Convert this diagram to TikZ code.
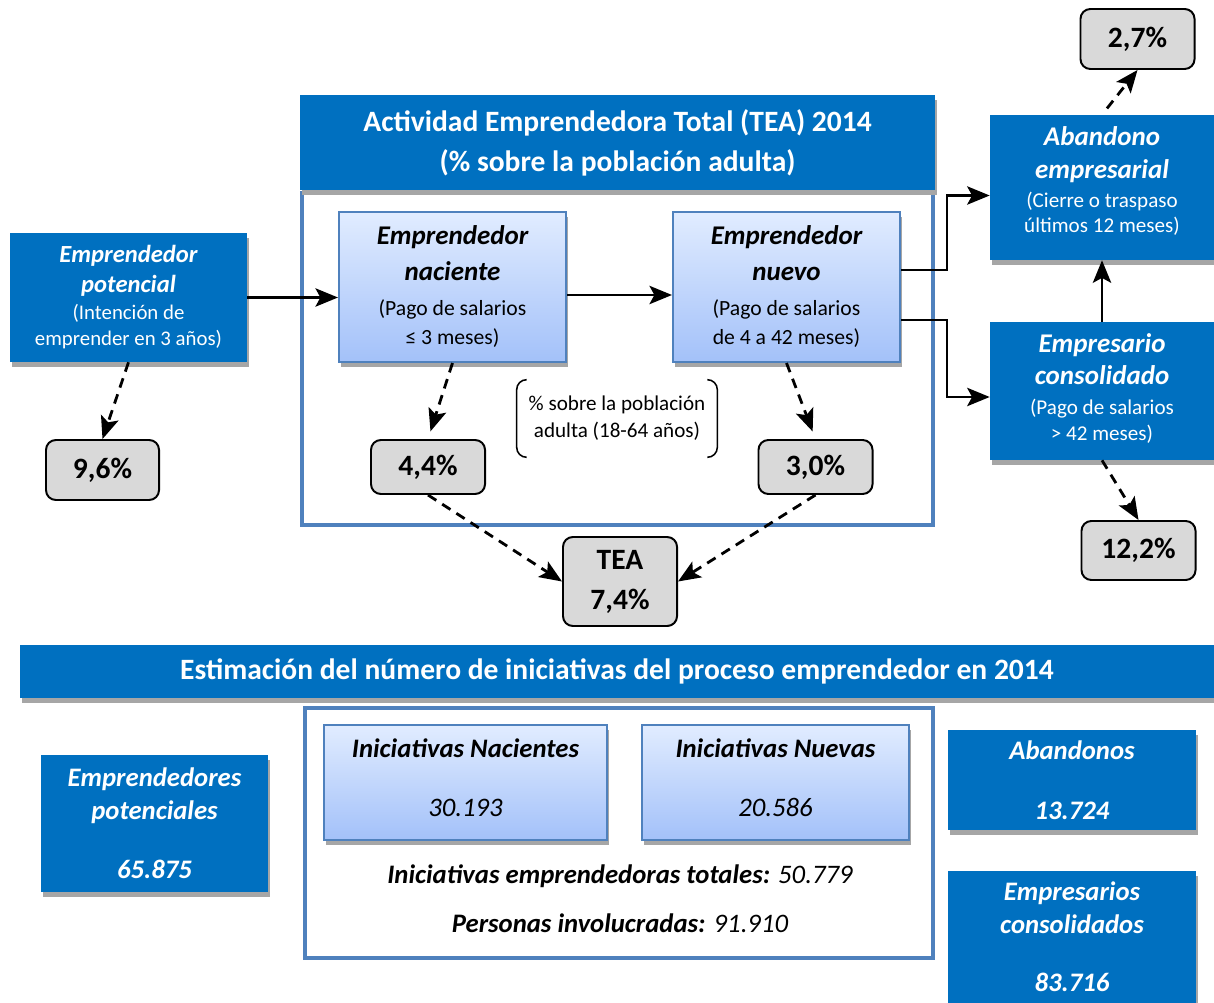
\documentclass[tikz,border=0pt]{standalone}
\usepackage{fontspec}
\setmainfont{Carlito}
\usetikzlibrary{arrows.meta,shadows}
\definecolor{azulgem}{HTML}{0070C0}
\definecolor{marco}{HTML}{4F81BD}
\definecolor{grisdato}{HTML}{D9D9D9}
\definecolor{sombra}{HTML}{A6A6A6}
\definecolor{celestearriba}{HTML}{E1ECFF}
\definecolor{celesteabajo}{HTML}{A3C1F9}
\newcommand{\cab}[1]{{\fontsize{19.2}{18}\selectfont\bfseries\itshape #1}}
\newcommand{\cabp}[1]{{\fontsize{17.5}{18}\selectfont\bfseries\itshape #1}}
\newcommand{\subir}[1]{\rule[-#1]{0pt}{#1}}
\tikzset{
  sombreada/.style={drop shadow={shadow xshift=0.05cm, shadow yshift=-0.13cm, fill=sombra, opacity=1}},
  cajaazul/.style={rectangle, fill=azulgem, text=white, align=center, inner sep=0pt, sombreada},
  cajaclara/.style={rectangle, draw=marco, line width=1.4pt, top color=celestearriba, bottom color=celesteabajo, align=center, inner sep=0pt, sombreada},
  dato/.style={rectangle, rounded corners=7pt, draw=black, line width=1.4pt, fill=grisdato, inner sep=0pt, align=center, font=\fontsize{21}{28.5}\selectfont\bfseries, minimum width=2.85cm},
  marcogrande/.style={draw=marco, line width=2.4pt},
  flecha/.style={-{Stealth[length=16pt,width=13pt,inset=3.5pt]}, line width=2pt},
  flechad/.style={flecha, dash pattern=on 7pt off 5pt},
}
\begin{document}
\begin{tikzpicture}[x=0.025cm,y=-0.025cm]
\useasboundingbox (0,0) rectangle (1214,1003);
% actividad emprendedora
\draw[marcogrande] (302,193) rectangle (933,525);
\node[cajaazul, minimum width=15.875cm, minimum height=2.375cm, font=\fontsize{21}{28.5}\selectfont\bfseries] (teatitulo) at (617.5,142.5) {Actividad Emprendedora Total (TEA) 2014\\ (\% sobre la población adulta)};
\node[cajaazul, minimum width=5.925cm, minimum height=3.225cm, font=\fontsize{14.8}{18.5}\selectfont] (potencial) at (128.5,297.5) {\cabp{Emprendedor}\\[2.8pt] \cabp{potencial}\\[0.7pt] (Intención de\\ emprender en 3 años)};
\node[cajaclara, minimum width=5.675cm, minimum height=3.75cm, font=\fontsize{15.4}{21.3}\selectfont] (naciente) at (452.5,287) {\cab{Emprendedor}\\[4.3pt] \cab{naciente}\\[2.9pt] (Pago de salarios\\ ≤ 3 meses)};
\node[cajaclara, minimum width=5.675cm, minimum height=3.75cm, font=\fontsize{15.4}{21.3}\selectfont] (nuevo) at (786.5,287) {\cab{Emprendedor}\\[4.3pt] \cab{nuevo}\\[2.9pt] (Pago de salarios\\ de 4 a 42 meses)};
\node[cajaazul, minimum width=5.6cm, minimum height=3.625cm, font=\fontsize{15}{17.8}\selectfont] (abandono) at (1102,187.5) {\cab{Abandono}\\[5.7pt] \cab{empresarial}\\[2.8pt] (Cierre o traspaso\\ últimos 12 meses)\subir{11pt}};
\node[cajaazul, minimum width=5.6cm, minimum height=3.45cm, font=\fontsize{15}{18.5}\selectfont] (consolidado) at (1102,391) {\cab{Empresario}\\[4.3pt] \cab{consolidado}\\[2.8pt] (Pago de salarios\\ > 42 meses)\subir{6pt}};
% porcentajes
\node[dato, minimum height=1.5cm] (p27) at (1137.5,39) {2,7\%};
\node[dato, minimum width=2.825cm, minimum height=1.5cm] (p96) at (102.5,470) {9,6\%};
\node[dato, minimum height=1.35cm] (p44) at (428,467) {4,4\%};
\node[dato, minimum height=1.35cm] (p30) at (815.5,467) {3,0\%};
\node[dato, minimum height=2.225cm] (tea) at (620,581.5) {TEA\\ 7,4\%};
\node[dato, minimum height=1.475cm] (p122) at (1138.5,550.5) {12,2\%};
\node[minimum width=5cm, minimum height=1.925cm, align=center, inner sep=0pt, font=\fontsize{15}{19.2}\selectfont] (nota) at (617,418.5) {\% sobre la población\\ adulta (18-64 años)};
\draw[line width=1.1pt, rounded corners=7pt] ([xshift=0.25cm]nota.north west) -| (nota.south west) -- ++(10,0);
\draw[line width=1.1pt, rounded corners=7pt] ([xshift=-0.25cm]nota.north east) -| (nota.south east) -- ++(-10,0);
% flechas
\draw[flecha] (potencial.east) -- (potencial.east -| naciente.west);
\draw[flecha] ([yshift=-0.2cm]naciente.east) -- ([yshift=-0.2cm]nuevo.west);
\draw[flecha] ([yshift=0.425cm]nuevo.east) -- ++(46,0) |- ([yshift=-0.2cm]abandono.west);
\draw[flecha] ([yshift=-0.825cm]nuevo.east) -- ++(46,0) |- ([yshift=-0.15cm]consolidado.west);
\draw[flecha] (consolidado.north) -- (abandono.south);
\draw[flechad, shorten <=0.2cm] (abandono.north) -- (p27.south);
\draw[flechad] (potencial.south) -- (p96.north);
\draw[flechad, shorten >=0.2cm] (naciente.south) -- (p44.north);
\draw[flechad, shorten >=0.2cm] (nuevo.south) -- (p30.north);
\draw[flechad] (p44.south) -- (tea.west);
\draw[flechad] (p30.south) -- (tea.east);
\draw[flechad] (consolidado.south) -- (p122.north);
% estimacion
\draw[marcogrande] (305,708) rectangle (933,958);
\node[cajaazul, minimum width=29.85cm, minimum height=1.325cm, font=\fontsize{21}{22}\selectfont\bfseries] (esttitulo) at (617,671.5) {Estimación del número de iniciativas del proceso emprendedor en 2014};
\node[cajaclara, minimum width=7.075cm, minimum height=2.875cm, font=\fontsize{19}{41.3}\selectfont\itshape] (inacientes) at (465.5,782.5) {\textbf{Iniciativas Nacientes}\\ 30.193\subir{7pt}};
\node[cajaclara, minimum width=6.675cm, minimum height=2.875cm, font=\fontsize{19}{41.3}\selectfont\itshape] (inuevas) at (775.5,782.5) {\textbf{Iniciativas Nuevas}\\ 20.586\subir{7pt}};
\node[font=\fontsize{19}{22}\selectfont\itshape] (totales) at (620,876) {\textbf{Iniciativas emprendedoras totales:} 50.779};
\node[font=\fontsize{19}{22}\selectfont\itshape] (personas) at (620,923) {\textbf{Personas involucradas:} 91.910};
\node[cajaazul, minimum width=5.675cm, minimum height=3.425cm, font=\fontsize{19}{23.5}\selectfont\bfseries\itshape] (epotenciales) at (154.5,823.5) {Emprendedores\\ potenciales\\[18.5pt] 65.875};
\node[cajaazul, minimum width=6.2cm, minimum height=2.5cm, font=\fontsize{19}{23.5}\selectfont\bfseries\itshape] (abandonos) at (1072,780) {Abandonos\\[19pt] 13.724};
\node[cajaazul, minimum width=6.2cm, minimum height=3.3cm, font=\fontsize{19}{23.5}\selectfont\bfseries\itshape] (econsolidados) at (1072,937) {Empresarios\\ consolidados\\[18pt] 83.716};
\end{tikzpicture}
\end{document}
